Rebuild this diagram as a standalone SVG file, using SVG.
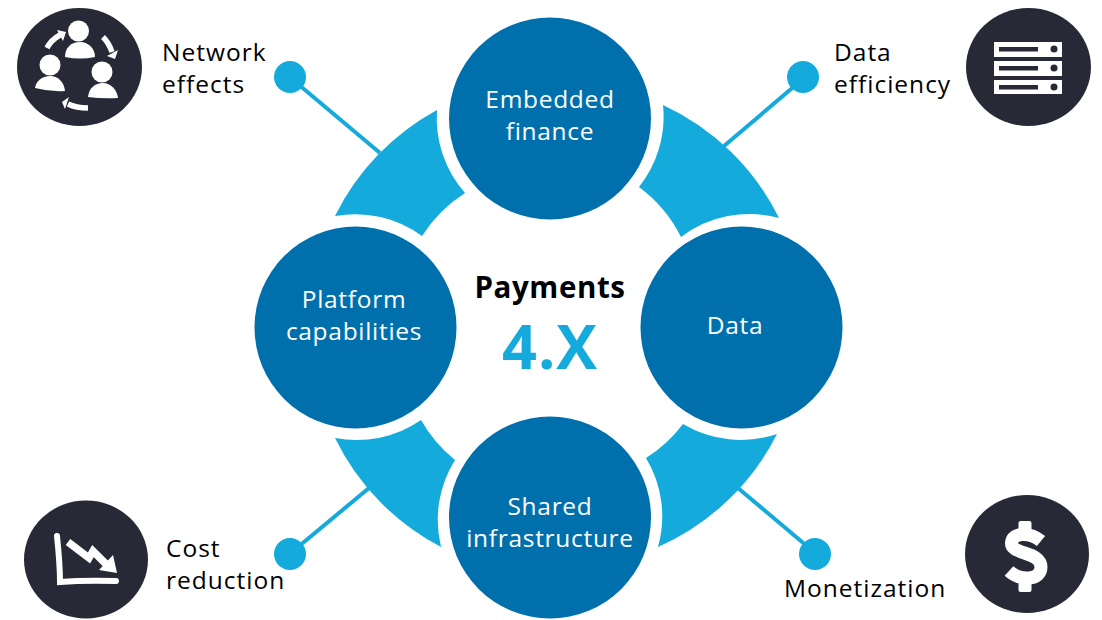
<svg xmlns="http://www.w3.org/2000/svg" width="1102" height="620" viewBox="0 0 1102 620">
<style>
text{font-family:"Open Sans","Noto Sans","Liberation Sans",sans-serif;text-anchor:middle}
.hub{fill:#0070ad}
.hub-t{fill:#fff;font-size:24.500px;letter-spacing:.7px}
.wedge{fill:#14abdc}
.dot{fill:#14abdc}
.link{stroke:#14abdc;stroke-width:4;fill:none}
.lbl{fill:#000;font-size:24.500px;letter-spacing:1px;text-anchor:start}
.badge{fill:#272936}
.ic{fill:#fff}
.ics{fill:none;stroke:#fff}
</style>
<rect width="1102" height="620" fill="#fff"/>
<g id="wedges">
<path class="wedge" d="M335 216A243 243 0 0 1 437 110A113 113 0 0 0 465 193A140 140 0 0 0 422 236A113 113 0 0 0 335 216Z"/>
<path class="wedge" d="M663 105A243 243 0 0 1 779 218A113 113 0 0 0 681 237A140 140 0 0 0 639 187A113 113 0 0 0 663 105Z"/>
<path class="wedge" d="M777 434A243 243 0 0 1 658 547A113 113 0 0 0 646 458A140 140 0 0 0 683 424A113 113 0 0 0 777 434Z"/>
<path class="wedge" d="M441 547A243 243 0 0 1 335 438A113 113 0 0 0 421 420A140 140 0 0 0 455 460A113 113 0 0 0 441 547Z"/>
</g>
<g id="connectors">
<line class="link" x1="298" y1="84" x2="380" y2="153"/>
<line class="link" x1="797" y1="84" x2="724" y2="146"/>
<line class="link" x1="298" y1="547" x2="369" y2="488"/>
<line class="link" x1="808" y1="547" x2="738" y2="488"/>
</g>
<g id="node-embedded"><circle class="hub" cx="550" cy="118.500" r="101"/><text class="hub-t" x="550" y="108">Embedded</text><text class="hub-t" x="550" y="140">finance</text></g>
<g id="node-platform"><circle class="hub" cx="355.500" cy="327.500" r="101"/><text class="hub-t" x="354" y="308">Platform</text><text class="hub-t" x="354" y="340">capabilities</text></g>
<g id="node-data"><circle class="hub" cx="741.500" cy="327.500" r="101"/><text class="hub-t" x="735" y="334">Data</text></g>
<g id="node-shared"><circle class="hub" cx="550" cy="517.500" r="101"/><text class="hub-t" x="550" y="515">Shared</text><text class="hub-t" x="550" y="547">infrastructure</text></g>
<g id="center"><text x="550" y="298" font-size="29.500" letter-spacing=".6" font-weight="700" fill="#000">Payments</text><text x="550" y="369" font-size="61" letter-spacing="1" font-weight="700" fill="#14abdc">4.X</text></g>
<g id="node-network">
<circle class="dot" cx="290" cy="77" r="16"/>
<text class="lbl" x="162" y="61">Network</text><text class="lbl" x="162" y="93">effects</text>
<ellipse class="badge" cx="79.500" cy="67" rx="62.500" ry="59"/>
<circle class="ic" cx="78.500" cy="31" r="10.500"/><path class="ic" d="M65 57C65 48 71 42 80 42C89 42 95 49 95 57Q80 60 65 57Z"/>
<circle class="ic" cx="50" cy="65" r="10.500"/><path class="ic" d="M35 88C36 81 42 76 50 76C58 76 64 82 65 91Q50 92 35 88Z"/>
<circle class="ic" cx="102" cy="72" r="10.500"/><path class="ic" d="M88 97C89 88 95 83 103 83C111 83 117 90 118 98Q103 99 88 97Z"/>
<path class="ics" stroke-width="5.500" d="M47 48Q51 40 60 35"/><path class="ic" d="M57 30L66 32L63 41Z"/>
<path class="ics" stroke-width="5.500" d="M103 37Q109 43 112 52"/><path class="ic" d="M107 56L118 50L115 59Z"/>
<path class="ics" stroke-width="5.500" d="M88 108Q76 108 68 104"/><path class="ic" d="M69 97L62 102L65 109Z"/>
</g>
<g id="node-data-efficiency">
<circle class="dot" cx="803" cy="77" r="16"/>
<text class="lbl" x="834" y="61">Data</text><text class="lbl" x="834" y="93">efficiency</text>
<ellipse class="badge" cx="1028.500" cy="67" rx="62.500" ry="59"/>
<rect class="ic" x="994" y="42" width="68" height="15"/><rect class="ic" x="994" y="61" width="68" height="15"/><rect class="ic" x="994" y="80" width="68" height="14"/>
<g fill="#272936"><rect x="999" y="47" width="39" height="4.500"/><rect x="999" y="66" width="39" height="4.500"/><rect x="999" y="85" width="39" height="4.500"/><circle cx="1054" cy="49" r="3.500"/><circle cx="1054" cy="68" r="3.500"/><circle cx="1054" cy="87" r="3.500"/></g>
</g>
<g id="node-cost">
<circle class="dot" cx="290" cy="554" r="16"/>
<text class="lbl" x="166" y="557">Cost</text><text class="lbl" x="166" y="589">reduction</text>
<ellipse class="badge" cx="86" cy="559.500" rx="62" ry="59"/>
<path class="ics" stroke-width="6" stroke-linecap="round" d="M57 536Q60 565 60 582Q85 580 116 581"/>
<path class="ics" stroke-width="7.500" d="M68 542L89 558L93 551L107 565"/>
<path class="ic" d="M117 573L99 570L113 555Z"/>
</g>
<g id="node-monetization">
<circle class="dot" cx="815" cy="554" r="16"/>
<text class="lbl" x="784" y="597">Monetization</text>
<ellipse class="badge" cx="1027" cy="554" rx="62" ry="59"/>
<path class="ics" stroke-width="13" d="M1041 541C1030 532 1012 532 1011.500 543C1011 555 1041 551 1041 567C1041 581 1020 581 1009 571"/>
<rect class="ic" x="1018.500" y="521" width="13" height="14" rx="2"/><rect class="ic" x="1018.500" y="578" width="13" height="14" rx="2"/>
</g>
</svg>
